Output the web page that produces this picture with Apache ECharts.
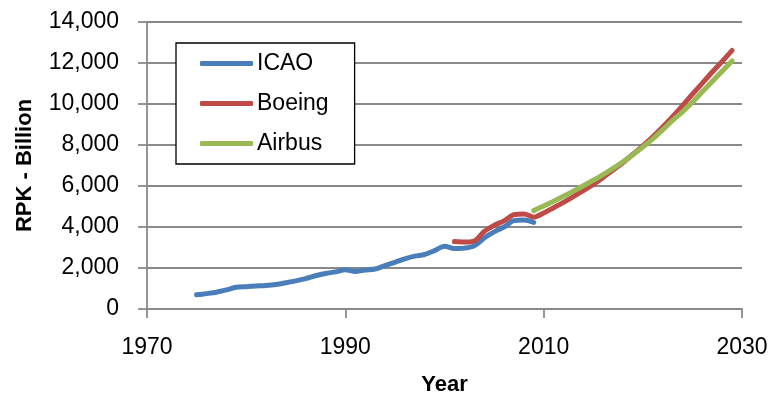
<!DOCTYPE html>
<html lang="en">
  <head>
    <meta charset="UTF-8" />
    <title>RPK forecast</title>
    <style>
      html,
      body {
        margin: 0;
        padding: 0;
        background: #fff;
      }
      #chart {
        width: 773px;
        height: 401px;
      }
    </style>
  </head>
  <body>
    <div id="chart"></div>
    <script src="https://cdn.jsdelivr.net/npm/echarts@6/dist/echarts.min.js"></script>
    <script>
      // values (RPK, billions)
      const icaoYears = [
        1975, 1976, 1977, 1978, 1979, 1980, 1981, 1982, 1983, 1984, 1985, 1986,
        1987, 1988, 1989, 1990, 1991, 1992, 1993, 1994, 1995, 1996, 1997, 1998,
        1999, 2000, 2001, 2002, 2003, 2004, 2005, 2006, 2007, 2008, 2009,
      ];
      const icaoValues = [
        690, 750, 820, 930, 1060, 1090, 1120, 1150, 1200, 1280, 1370, 1480,
        1620, 1730, 1810, 1910, 1830, 1900, 1950, 2120, 2280, 2450, 2580, 2660,
        2850, 3060, 2950, 2970, 3080, 3460, 3760, 4000, 4310, 4340, 4220,
      ];
      const boeingYears = [
        2001, 2002, 2003, 2004, 2005, 2006, 2007, 2008, 2009, 2010, 2011, 2012,
        2013, 2014, 2015, 2016, 2017, 2018, 2019, 2020, 2021, 2022, 2023, 2024,
        2025, 2026, 2027, 2028, 2029,
      ];
      const boeingValues = [
        3290, 3270, 3320, 3780, 4080, 4300, 4600, 4640, 4480, 4680, 4940, 5200,
        5480, 5780, 6080, 6420, 6780, 7150, 7550, 7960, 8400, 8880, 9380, 9920,
        10480, 11020, 11560, 12080, 12620,
      ];
      const airbusYears = [
        2009, 2010, 2011, 2012, 2013, 2014, 2015, 2016, 2017, 2018, 2019, 2020,
        2021, 2022, 2023, 2024, 2025, 2026, 2027, 2028, 2029,
      ];
      const airbusValues = [
        4800, 5020, 5260, 5500, 5750, 6010, 6280, 6560, 6860, 7180, 7530, 7900,
        8300, 8740, 9200, 9620, 10080, 10600, 11100, 11600, 12100,
      ];
      const xTicks = [1970, 1990, 2010, 2030];

      const font = "Liberation Sans";
      const gridColor = "#898989";

      function pairs(xs, ys) {
        return xs.map((x, i) => [x, ys[i]]);
      }

      function lineSeries(name, xs, ys, color) {
        return {
          name: name,
          type: "line",
          data: pairs(xs, ys),
          smooth: 0.3,
          symbol: "none",
          lineStyle: { width: 5, color: color, cap: "round", join: "round" },
          itemStyle: { color: color },
        };
      }

      const chart = echarts.init(document.getElementById("chart"));
      const option = {
        animation: false,
        backgroundColor: "#fff",
        grid: { left: 147, right: 31, top: 22, bottom: 88 },
        legend: {
          left: 176,
          top: 43,
          orient: "vertical",
          backgroundColor: "#fff",
          borderColor: "#000",
          borderWidth: 1.3,
          borderRadius: 0,
          padding: [9, 26, 9, 24],
          itemGap: 17,
          itemWidth: 53,
          itemHeight: 5,
          icon: "roundRect",
          textStyle: { fontFamily: font, fontSize: 23, color: "#000", padding: [0, 0, 0, -1] },
          data: ["ICAO", "Boeing", "Airbus"],
        },
        xAxis: {
          type: "value",
          min: 1970,
          max: 2030,
          interval: 20,
          name: "Year",
          nameLocation: "middle",
          nameGap: 65,
          nameTextStyle: { fontFamily: font, fontSize: 22, fontWeight: "bold", color: "#000" },
          axisLine: { show: true, lineStyle: { color: gridColor, width: 1.8 } },
          axisTick: { show: true, length: 9, lineStyle: { color: gridColor, width: 1.8 } },
          splitLine: { show: false },
          axisLabel: {
            fontFamily: font,
            fontSize: 23,
            color: "#000",
            margin: 27,
            formatter: (v) => (xTicks.includes(v) ? String(v) : ""),
          },
        },
        yAxis: {
          type: "value",
          min: 0,
          max: 14000,
          interval: 2000,
          name: "RPK - Billion",
          nameLocation: "middle",
          nameGap: 111,
          nameTextStyle: { fontFamily: font, fontSize: 22, fontWeight: "bold", color: "#000" },
          axisLine: { show: true, lineStyle: { color: gridColor, width: 1.8 } },
          axisTick: { show: true, length: 9, lineStyle: { color: gridColor, width: 1.8 } },
          splitLine: { show: true, lineStyle: { color: gridColor, width: 1.8 } },
          axisLabel: {
            fontFamily: font,
            fontSize: 23,
            color: "#000",
            margin: 28,
            formatter: (v) => v.toLocaleString("en-US"),
          },
        },
        series: [
          lineSeries("ICAO", icaoYears, icaoValues, "#4a7ebb"),
          lineSeries("Boeing", boeingYears, boeingValues, "#be4b48"),
          lineSeries("Airbus", airbusYears, airbusValues, "#98b954"),
        ],
      };
      chart.setOption(option);
    </script>
  </body>
</html>
